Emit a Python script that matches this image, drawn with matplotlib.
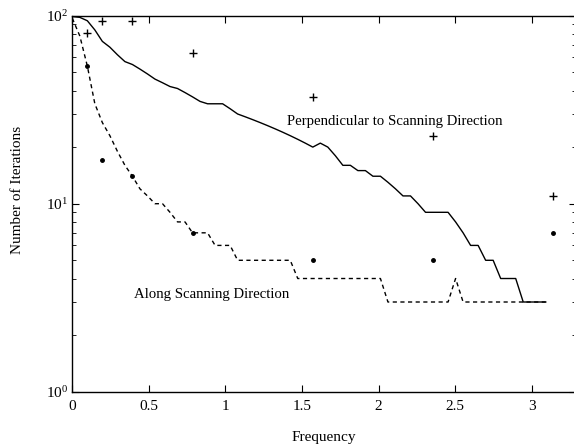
import numpy as np
import matplotlib
matplotlib.use("Agg")
import matplotlib.pyplot as plt
from matplotlib.ticker import LogLocator

plt.rcParams['font.family'] = ['Liberation Serif', 'DejaVu Serif']
plt.rcParams['mathtext.fontset'] = 'stix'

# frequency grid: k*pi/64, k = 0..63
freq = np.arange(64) * np.pi / 64

perpendicular = [99, 98, 94, 84, 73, 68, 62, 57, 55, 52,
                 49, 46, 44, 42, 41, 39, 37, 35, 34, 34,
                 34, 32, 30, 29, 28, 27, 26, 25, 24, 23,
                 22, 21, 20, 21, 20, 18, 16, 16, 15, 15,
                 14, 14, 13, 12, 11, 11, 10, 9, 9, 9,
                 9, 8, 7, 6, 6, 5, 5, 4, 4, 4,
                 3, 3, 3, 3]

along = [97, 78, 54, 34, 27, 23, 19, 16, 14, 12,
         11, 10, 10, 9, 8, 8, 7, 7, 7, 6,
         6, 6, 5, 5, 5, 5, 5, 5, 5, 5,
         4, 4, 4, 4, 4, 4, 4, 4, 4, 4,
         4, 4, 3, 3, 3, 3, 3, 3, 3, 3,
         3, 4, 3, 3, 3, 3, 3, 3, 3, 3,
         3, 3, 3, 3]

# sample frequencies for markers: pi/32, pi/16, pi/8, pi/4, pi/2, 3pi/4, pi
sample_freq = [np.pi / 32, np.pi / 16, np.pi / 8, np.pi / 4, np.pi / 2, 3 * np.pi / 4, np.pi]
perp_points = [81, 94, 94, 63, 37, 23, 11]
along_points = [54, 17, 14, 7, 5, 5, 7]

xticks = [0, 0.5, 1, 1.5, 2, 2.5, 3]
xticklabels = ["0", "0.5", "1", "1.5", "2", "2.5", "3"]

W, H = 574, 447
fig = plt.figure(figsize=(W / 100, H / 100), dpi=100)
left, right, top, bottom = 72.3, 576.0, 15.7, 391.7
ax = fig.add_axes([left / W, (H - bottom) / H, (right - left) / W, (bottom - top) / H])

ax.plot(freq, perpendicular, color='black', lw=1.0)
ax.plot(freq, along, color='black', lw=1.0, linestyle=(0, (3, 2.5)))
ax.plot(sample_freq, perp_points, linestyle='none', marker='+', color='black',
        markersize=5.5, markeredgewidth=1.0)
ax.plot(sample_freq, along_points, linestyle='none', marker='o', color='black',
        markersize=2.5)

ax.set_yscale('log')
ax.set_ylim(1, 100)
ax.set_xlim(0, 3.29)
ax.set_xticks(xticks)
ax.set_xticklabels(xticklabels)
ax.yaxis.set_minor_locator(LogLocator(base=10, subs=np.arange(2, 10)))
ax.tick_params(axis='both', which='both', direction='in', top=True, right=True,
               labelsize=11, colors='black')
ax.tick_params(which='major', length=5, width=0.8)
ax.tick_params(which='minor', length=3, width=0.6)
ax.tick_params(axis='x', pad=6)
ax.tick_params(axis='y', pad=3)
for s in ax.spines.values():
    s.set_linewidth(1.0)

ax.text(1.40, 27.5, "Perpendicular to Scanning Direction", fontsize=10.6,
        ha='left', va='center')
ax.text(0.403, 3.27, "Along Scanning Direction", fontsize=10.6,
        ha='left', va='center')

fig.text(324 / W, 1 - 437 / H, "Frequency", fontsize=11, ha='center', va='center')
fig.text(18 / W, 1 - 190 / H, "Number of Iterations", fontsize=11, ha='center',
         va='center', rotation=90)

fig.savefig("out.png", dpi=100)
